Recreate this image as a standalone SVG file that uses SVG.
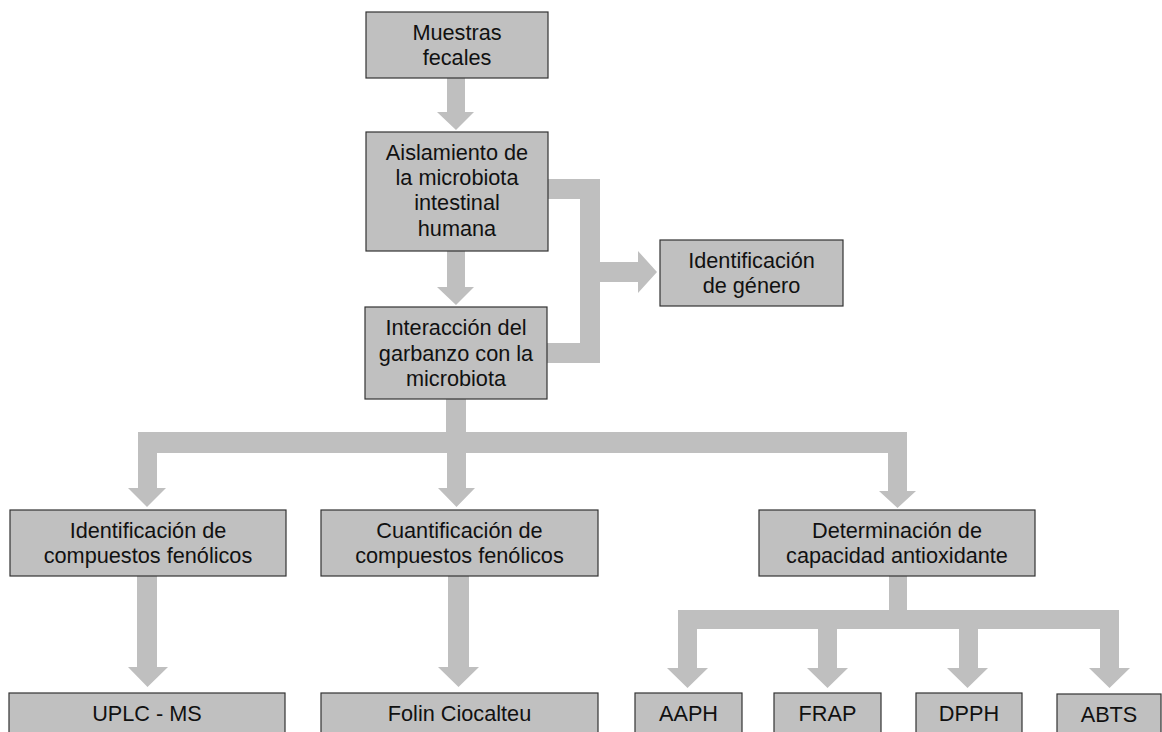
<svg xmlns="http://www.w3.org/2000/svg" width="1162" height="732" viewBox="0 0 1162 732">
<style>
.box{fill:#c0c0c0;stroke:#333333;stroke-width:1.2}
.conn{fill:#bfbfbf;stroke:none}
text{font-family:"Liberation Sans",Arial,sans-serif;font-size:21.7px;fill:#111111;text-anchor:middle}
</style>
<rect width="1162" height="732" fill="#ffffff"/>
<g id="connectors">
<polygon class="conn" points="447,78 465,78 465,112 474,112 456,130 437,112 447,112"/>
<polygon class="conn" points="447,251 465,251 465,287 474,287 456,305 437,287 447,287"/>
<polygon class="conn" points="548,179 600,179 600,262 638,262 638,251 657,272 638,293 638,282 600,282 600,363 547,363 547,343 580,343 580,199 548,199"/>
<polygon class="conn" points="446,399 466,399 466,432 907,432 907,491 916,491 897.5,508 879,491 888,491 888,453 466,453 466,488 475,488 456.5,507 438,488 447,488 447,453 157,453 157,488 166,488 147,507 128,488 138,488 138,432 446,432"/>
<polygon class="conn" points="137,576 157,576 157,667 168,667 147.5,687 128,667 137,667"/>
<polygon class="conn" points="448,576 469,576 469,667 479,667 458.5,687 438,667 448,667"/>
<polygon class="conn" points="889,576 907,576 907,610 1119,610 1119,668 1130,668 1109.5,688 1089,668 1100,668 1100,629 978,629 978,668 988,668 967.5,688 947,668 959,668 959,629 837,629 837,668 848,668 827.5,688 807,668 818,668 818,629 697,629 697,668 708,668 687.5,688 667,668 678,668 678,610 889,610"/>
</g>
<g id="muestras"><rect class="box" x="366" y="12" width="182" height="66"/><text x="457" y="40">Muestras</text><text x="457" y="65">fecales</text></g>
<g id="aislamiento"><rect class="box" x="366" y="132" width="182" height="119"/><text x="457" y="160">Aislamiento de</text><text x="457" y="185">la microbiota</text><text x="457" y="210">intestinal</text><text x="457" y="236">humana</text></g>
<g id="interaccion"><rect class="box" x="365" y="307" width="182" height="92"/><text x="456" y="335">Interacción del</text><text x="456" y="361">garbanzo con la</text><text x="456" y="386">microbiota</text></g>
<g id="genero"><rect class="box" x="660" y="240" width="183" height="66"/><text x="751.5" y="268">Identificación</text><text x="751.5" y="293">de género</text></g>
<g id="identificacion"><rect class="box" x="10" y="510" width="276" height="66"/><text x="148" y="538">Identificación de</text><text x="148" y="563">compuestos fenólicos</text></g>
<g id="cuantificacion"><rect class="box" x="321" y="510" width="277" height="66"/><text x="459.5" y="538">Cuantificación de</text><text x="459.5" y="563">compuestos fenólicos</text></g>
<g id="determinacion"><rect class="box" x="759" y="510" width="276" height="66"/><text x="897" y="538">Determinación de</text><text x="897" y="563">capacidad antioxidante</text></g>
<g id="uplc"><rect class="box" x="9" y="693" width="276" height="50"/><text x="147" y="721">UPLC - MS</text></g>
<g id="folin"><rect class="box" x="321" y="693" width="277" height="50"/><text x="459.5" y="721">Folin Ciocalteu</text></g>
<g id="aaph"><rect class="box" x="635" y="693" width="107" height="50"/><text x="688.5" y="721">AAPH</text></g>
<g id="frap"><rect class="box" x="774" y="693" width="107" height="50"/><text x="827.5" y="721">FRAP</text></g>
<g id="dpph"><rect class="box" x="916" y="693" width="106" height="50"/><text x="969" y="721">DPPH</text></g>
<g id="abts"><rect class="box" x="1057" y="694" width="104" height="50"/><text x="1109" y="722">ABTS</text></g>
</svg>
